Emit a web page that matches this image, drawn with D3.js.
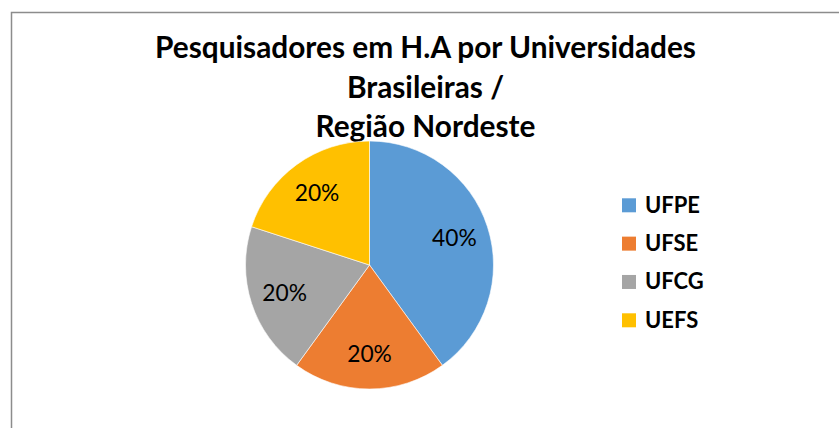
<!DOCTYPE html>
<html><head><meta charset="utf-8">
<script src="https://cdn.jsdelivr.net/npm/d3@7"></script>
<style>html,body{margin:0;padding:0;background:#fff;}svg{display:block;}</style>
</head><body>
<svg id="chart" width="839" height="428"></svg>
<script>
const categories = ["UFPE", "UFSE", "UFCG", "UEFS"];
const values = [40, 20, 20, 20];
const colors = ["#5B9BD5", "#ED7D31", "#A5A5A5", "#FFC000"];
const titleLines = ["Pesquisadores em H.A por Universidades", "Brasileiras /", "Região Nordeste"];

const svg = d3.select("#chart");
const W = 839, H = 428;

svg.append("rect").attr("x", 11.5).attr("y", 12.5).attr("width", W + 10).attr("height", H + 10)
  .attr("fill", "#fff").attr("stroke", "#8c8c8c").attr("stroke-width", 1.5);

const font = "Lato, 'Liberation Sans', Arial, sans-serif";

function fitSize(text, weight, target, base) {
  const t = svg.append("text").attr("font-family", font).attr("font-weight", weight)
    .attr("font-size", base).text(text);
  const w = t.node().getComputedTextLength();
  t.remove();
  return base * target / w;
}

// Title
const fs = fitSize(titleLines[0], "bold", 541, 24);
titleLines.forEach((l, i) => {
  svg.append("text").attr("x", 425.5).attr("y", 58.3 + 39.2 * i).attr("text-anchor", "middle")
    .attr("font-family", font).attr("font-weight", "bold").attr("font-size", fs).attr("fill", "#000")
    .text(l);
});

// Pie
const cx = 369.5, cy = 265, r = 124;
const pie = d3.pie().sort(null).value(d => d.v);
const data = pie(categories.map((c, i) => ({c, v: values[i], col: colors[i]})));
const arc = d3.arc().innerRadius(0).outerRadius(r);
const labelArc = d3.arc().innerRadius(r * 0.72).outerRadius(r * 0.72);
const total = d3.sum(values);
const lfs = fitSize("40%", "normal", 44.7, 22);
const g = svg.append("g").attr("transform", `translate(${cx},${cy})`);
g.selectAll("path").data(data).join("path")
  .attr("d", arc).attr("fill", d => d.data.col).attr("stroke", "#fff").attr("stroke-width", 0.6);
g.selectAll("text").data(data).join("text")
  .attr("transform", d => `translate(${labelArc.centroid(d)})`)
  .attr("text-anchor", "middle").attr("dy", "0.36em")
  .attr("font-family", font).attr("font-size", lfs).attr("fill", "#000")
  .text(d => Math.round(d.data.v / total * 100) + "%");

// Legend
const gfs = fitSize("UFPE", "bold", 55, 20);
const ly = d3.scalePoint().domain(categories).range([205.3, 320.3]);
const lg = svg.append("g");
categories.forEach((c, i) => {
  lg.append("rect").attr("x", 622).attr("y", ly(c) - 7).attr("width", 14).attr("height", 14).attr("fill", colors[i]);
  lg.append("text").attr("x", 645).attr("y", ly(c) + 7.2).attr("font-family", font).attr("font-weight", "bold")
    .attr("font-size", gfs).attr("fill", "#000").text(c);
});
</script>
</body></html>
